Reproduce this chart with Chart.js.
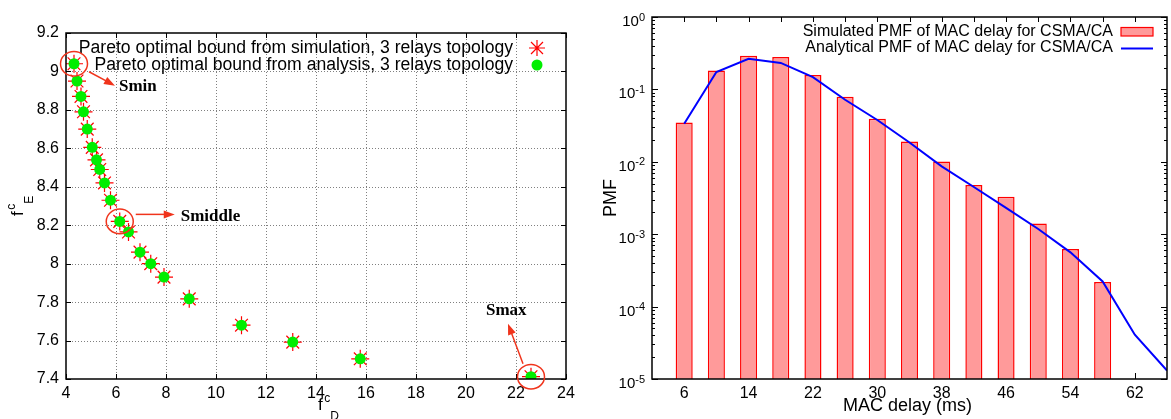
<!DOCTYPE html>
<html>
<head>
<meta charset="utf-8">
<script src="https://cdn.jsdelivr.net/npm/chart.js@4.4.1/dist/chart.umd.min.js"></script>
<style>
  html, body { margin: 0; padding: 0; background: #fff; }
  body { width: 1171px; height: 419px; position: relative; overflow: hidden; }
  canvas { position: absolute; top: 0; }
  #pareto { left: 0; }
  #pmf { left: 590px; }
</style>
</head>
<body>
<canvas id="pareto" width="590" height="419"></canvas>
<canvas id="pmf" width="581" height="419"></canvas>
<script>
// ---- left panel: pareto bound, delay cost f^c_D vs energy cost f^c_E
const paretoDelay  = [4.32, 4.44, 4.60, 4.70, 4.85, 5.05, 5.22, 5.35, 5.54, 5.78, 6.15, 6.50, 6.96, 7.39, 7.92, 8.93, 11.02, 13.07, 15.77, 22.60];
const paretoEnergy = [9.04, 8.95, 8.87, 8.79, 8.70, 8.605, 8.54, 8.49, 8.42, 8.33, 8.22, 8.165, 8.06, 8.00, 7.93, 7.817, 7.68, 7.592, 7.505, 7.412];
const paretoXTicks = [4, 6, 8, 10, 12, 14, 16, 18, 20, 22, 24];
const paretoYTicks = [7.4, 7.6, 7.8, 8.0, 8.2, 8.4, 8.6, 8.8, 9.0, 9.2];
// points that get a circle + arrow + name
const markedIndex = [0, 10, 19];
const markedName  = ['Smin', 'Smiddle', 'Smax'];

// ---- right panel: PMF of MAC delay
const delayBins     = [6, 10, 14, 18, 22, 26, 30, 34, 38, 42, 46, 50, 54, 58];
const pmfSimulated  = [0.035, 0.183, 0.292, 0.280, 0.158, 0.0793, 0.0393, 0.0191, 0.0101, 0.00478, 0.0033, 0.0014, 0.000625, 0.000219];
const delayPoints   = [6, 10, 14, 18, 22, 26, 30, 34, 38, 42, 46, 50, 54, 58, 62, 66];
const pmfAnalytical = [0.0336, 0.174, 0.265, 0.232, 0.148, 0.072, 0.0378, 0.0185, 0.00864, 0.00449, 0.00231, 0.00118, 0.000561, 0.000223, 0.0000409, 0.0000131];
const delayTicks    = [6, 14, 22, 30, 38, 46, 54, 62];
const delayTopTicks = [6, 10, 14, 18, 22, 26, 30, 34, 38, 42, 46, 50, 54, 58, 62];
const pmfDecades    = [-5, -4, -3, -2, -1, 0];

const SANS = '"Liberation Sans", Arial, Helvetica, sans-serif';
const SERIF = '"Liberation Serif", "Times New Roman", serif';
Chart.defaults.font.family = SANS;
Chart.defaults.font.size = 16;
Chart.defaults.color = '#000';

const annoRed = 'rgb(240, 52, 28)';

function arrow(ctx, x1, y1, x2, y2) {
  const a = Math.atan2(y2 - y1, x2 - x1);
  const c = Math.cos(a), s = Math.sin(a);
  ctx.beginPath();
  ctx.moveTo(x1, y1);
  ctx.lineTo(x2 - 8 * c, y2 - 8 * s);
  ctx.stroke();
  ctx.beginPath();
  ctx.moveTo(x2, y2);
  ctx.lineTo(x2 - 11 * c + 4 * s, y2 - 11 * s - 4 * c);
  ctx.lineTo(x2 - 11 * c - 4 * s, y2 - 11 * s + 4 * c);
  ctx.closePath();
  ctx.fill();
}

function star(ctx, x, y, r) {
  ctx.beginPath();
  ctx.moveTo(x - r, y); ctx.lineTo(x + r, y);
  ctx.moveTo(x, y - r); ctx.lineTo(x, y + r);
  ctx.moveTo(x - r * 0.75, y - r * 0.75); ctx.lineTo(x + r * 0.75, y + r * 0.75);
  ctx.moveTo(x - r * 0.75, y + r * 0.75); ctx.lineTo(x + r * 0.75, y - r * 0.75);
  ctx.stroke();
}

// text with a superscript and a subscript, like f^c_D
function fcLabel(ctx, x, y, sub) {
  ctx.textAlign = 'left';
  ctx.textBaseline = 'alphabetic';
  ctx.font = '17px ' + SANS;
  ctx.fillText('f', x, y);
  const w = ctx.measureText('f').width + 1.5;
  ctx.font = '12px ' + SANS;
  ctx.fillText('c', x + w, y - 8);
  ctx.fillText(sub, x + w + ctx.measureText('c').width, y + 10);
}

const paretoDecor = {
  id: 'paretoDecor',
  beforeDatasetsDraw(chart) {
    const { ctx, chartArea: a, scales: { x, y } } = chart;
    ctx.save();
    ctx.strokeStyle = '#808080';
    ctx.lineWidth = 1;
    ctx.setLineDash([1, 2]);
    paretoXTicks.slice(1, -1).forEach(v => {
      const px = Math.round(x.getPixelForValue(v)) + 0.5;
      ctx.beginPath(); ctx.moveTo(px, a.top); ctx.lineTo(px, a.bottom); ctx.stroke();
    });
    paretoYTicks.slice(1, -1).forEach(v => {
      const py = Math.round(y.getPixelForValue(v)) + 0.5;
      ctx.beginPath(); ctx.moveTo(a.left, py); ctx.lineTo(a.right, py); ctx.stroke();
    });
    ctx.restore();
  },
  afterDatasetsDraw(chart) {
    const { ctx, chartArea: a, scales: { x, y } } = chart;
    ctx.save();
    // inward ticks and frame
    ctx.strokeStyle = '#000';
    ctx.lineWidth = 1;
    ctx.beginPath();
    paretoXTicks.forEach(v => {
      const px = Math.round(x.getPixelForValue(v)) + 0.5;
      ctx.moveTo(px, a.bottom); ctx.lineTo(px, a.bottom - 5);
      ctx.moveTo(px, a.top); ctx.lineTo(px, a.top + 5);
    });
    paretoYTicks.forEach(v => {
      const py = Math.round(y.getPixelForValue(v)) + 0.5;
      ctx.moveTo(a.left, py); ctx.lineTo(a.left + 5, py);
      ctx.moveTo(a.right, py); ctx.lineTo(a.right - 5, py);
    });
    ctx.stroke();
    ctx.lineWidth = 1.5;
    ctx.strokeRect(a.left, a.top, a.right - a.left, a.bottom - a.top);

    // legend, gnuplot style: text right-aligned, marker on the right
    const ds = chart.data.datasets;
    ctx.font = '17.6px ' + SANS;
    ctx.fillStyle = '#000';
    ctx.textAlign = 'right';
    ctx.textBaseline = 'middle';
    ctx.fillText(ds[0].label, a.right - 53, a.top + 15);
    ctx.fillText(ds[1].label, a.right - 53, a.top + 32);
    ctx.strokeStyle = ds[0].borderColor;
    ctx.lineWidth = 1.2;
    star(ctx, a.right - 29, a.top + 15, 8);
    ctx.fillStyle = ds[1].backgroundColor;
    ctx.beginPath(); ctx.arc(a.right - 29, a.top + 32, 5.5, 0, Math.PI * 2); ctx.fill();

    // annotations: circle around the point, arrow, name
    const place = [
      { from: [15, 8], to: [41, 22], at: [45, 27] },
      { from: [16, -7], to: [55, -7], at: [61, 0] },
      { from: [-8, -13], to: [-23, -53], at: [-45, -62] }
    ];
    markedIndex.forEach((idx, k) => {
      const px = x.getPixelForValue(paretoDelay[idx]);
      const py = y.getPixelForValue(paretoEnergy[idx]);
      const p = place[k];
      ctx.strokeStyle = annoRed;
      ctx.fillStyle = annoRed;
      ctx.lineWidth = 1.5;
      ctx.beginPath(); ctx.ellipse(px, py, 13.5, 12.3, 0, 0, Math.PI * 2); ctx.stroke();
      arrow(ctx, px + p.from[0], py + p.from[1], px + p.to[0], py + p.to[1]);
      ctx.fillStyle = '#000';
      ctx.font = 'bold 17px ' + SERIF;
      ctx.textAlign = 'left';
      ctx.textBaseline = 'alphabetic';
      ctx.fillText(markedName[k], px + p.at[0], py + p.at[1]);
    });

    // axis titles
    ctx.fillStyle = '#000';
    fcLabel(ctx, (a.left + a.right) / 2 + 2, a.bottom + 31, 'D');
    ctx.translate(a.left - 43, (a.top + a.bottom) / 2 + 10);
    ctx.rotate(-Math.PI / 2);
    fcLabel(ctx, 0, 0, 'E');
    ctx.restore();
  }
};

new Chart('pareto', {
  type: 'scatter',
  data: {
    datasets: [{
      label: 'Pareto optimal bound from simulation, 3 relays topology',
      data: paretoDelay.map((v, i) => ({ x: v, y: paretoEnergy[i] })),
      pointStyle: 'star',
      pointRadius: 9,
      borderColor: '#ff0000',
      backgroundColor: '#ff0000',
      borderWidth: 1.2,
      order: 2
    }, {
      label: 'Pareto optimal bound from analysis, 3 relays topology',
      data: paretoDelay.map((v, i) => ({ x: v, y: paretoEnergy[i] })),
      pointStyle: 'circle',
      pointRadius: 5.5,
      backgroundColor: '#00ee00',
      borderWidth: 0,
      order: 1
    }]
  },
  options: {
    responsive: false,
    animation: false,
    devicePixelRatio: 1,
    events: [],
    layout: { padding: { left: 0, top: 33, right: 24, bottom: 0 } },
    plugins: { legend: { display: false }, tooltip: { enabled: false } },
    scales: {
      x: {
        type: 'linear', min: 4, max: 24,
        afterBuildTicks: s => { s.ticks = paretoXTicks.map(v => ({ value: v })); },
        afterFit: s => { s.height = 40; },
        grid: { display: false, drawTicks: false },
        border: { display: false },
        ticks: { padding: 5, maxRotation: 0, autoSkip: false, callback: v => String(v) }
      },
      y: {
        type: 'linear', min: 7.4, max: 9.2,
        afterBuildTicks: s => { s.ticks = paretoYTicks.map(v => ({ value: v })); },
        afterFit: s => { s.width = 66; },
        grid: { display: false, drawTicks: false },
        border: { display: false },
        ticks: { padding: 7, autoSkip: false, callback: v => String(+v.toFixed(1)) }
      }
    }
  },
  plugins: [paretoDecor]
});

const pmfDecor = {
  id: 'pmfDecor',
  beforeDatasetsDraw(chart) {
    const { ctx, chartArea: a, scales: { x, y } } = chart;
    ctx.save();
    ctx.strokeStyle = '#000';
    ctx.lineWidth = 1;
    ctx.beginPath();
    delayTicks.forEach(v => {
      const px = Math.round(x.getPixelForValue(v)) + 0.5;
      ctx.moveTo(px, a.bottom); ctx.lineTo(px, a.bottom - 6);
    });
    delayTopTicks.forEach(v => {
      const px = Math.round(x.getPixelForValue(v)) + 0.5;
      ctx.moveTo(px, a.top); ctx.lineTo(px, a.top + 5);
    });
    pmfDecades.forEach(e => {
      for (let m = 1; m <= 9; m++) {
        if (e === 0 && m > 1) break;
        const py = Math.round(y.getPixelForValue(m * Math.pow(10, e))) + 0.5;
        const len = m === 1 ? 6 : 3;
        ctx.moveTo(a.left, py); ctx.lineTo(a.left + len, py);
        ctx.moveTo(a.right, py); ctx.lineTo(a.right - len, py);
      }
    });
    ctx.stroke();
    ctx.restore();
  },
  afterDatasetsDraw(chart) {
    const { ctx, chartArea: a, scales: { y } } = chart;
    ctx.save();
    ctx.strokeStyle = '#000';
    ctx.lineWidth = 1.5;
    ctx.strokeRect(a.left, a.top, a.right - a.left, a.bottom - a.top);

    // log tick labels 10^e
    ctx.fillStyle = '#000';
    ctx.textAlign = 'right';
    ctx.textBaseline = 'alphabetic';
    pmfDecades.forEach(e => {
      const py = y.getPixelForValue(Math.pow(10, e));
      const exp = String(e);
      ctx.font = '11px ' + SANS;
      const ew = ctx.measureText(exp).width;
      const right = a.left - 7;
      ctx.fillText(exp, right, py + 3.5);
      ctx.font = '15px ' + SANS;
      ctx.fillText('10', right - ew, py + 9);
    });

    // legend
    const ds = chart.data.datasets;
    ctx.font = '16px ' + SANS;
    ctx.textBaseline = 'middle';
    ctx.fillText(ds[0].label, a.right - 54, a.top + 14.5);
    ctx.fillText(ds[1].label, a.right - 54, a.top + 31);
    ctx.fillStyle = ds[0].backgroundColor;
    ctx.fillRect(a.right - 46, a.top + 10.5, 32, 8.5);
    ctx.strokeStyle = ds[0].borderColor;
    ctx.lineWidth = 1.2;
    ctx.strokeRect(a.right - 46, a.top + 10.5, 32, 8.5);
    ctx.strokeStyle = ds[1].borderColor;
    ctx.lineWidth = 2;
    ctx.beginPath(); ctx.moveTo(a.right - 46, a.top + 31.5); ctx.lineTo(a.right - 14, a.top + 31.5); ctx.stroke();

    // axis titles
    ctx.fillStyle = '#000';
    ctx.font = '18px ' + SANS;
    ctx.textAlign = 'center';
    ctx.textBaseline = 'middle';
    ctx.fillText('MAC delay (ms)', (a.left + a.right) / 2 - 2, a.bottom + 27);
    ctx.translate(a.left - 41, (a.top + a.bottom) / 2);
    ctx.rotate(-Math.PI / 2);
    ctx.fillText('PMF', 0, 0);
    ctx.restore();
  }
};

new Chart('pmf', {
  type: 'bar',
  data: {
    datasets: [{
      type: 'bar',
      label: 'Simulated PMF of MAC delay for CSMA/CA',
      data: delayBins.map((v, i) => ({ x: v, y: pmfSimulated[i] })),
      backgroundColor: '#ff9a9a',
      borderColor: '#ff0000',
      borderWidth: 1.5,
      barPercentage: 0.53,
      categoryPercentage: 1,
      order: 2
    }, {
      type: 'line',
      label: 'Analytical PMF of MAC delay for CSMA/CA',
      data: delayPoints.map((v, i) => ({ x: v, y: pmfAnalytical[i] })),
      borderColor: '#0000ff',
      borderWidth: 2,
      pointRadius: 0,
      tension: 0,
      fill: false,
      order: 1
    }]
  },
  options: {
    responsive: false,
    animation: false,
    devicePixelRatio: 1,
    events: [],
    layout: { padding: { left: 0, top: 17, right: 4, bottom: 0 } },
    plugins: { legend: { display: false }, tooltip: { enabled: false } },
    scales: {
      x: {
        type: 'linear', offset: false, min: 2, max: 66,
        afterBuildTicks: s => { s.ticks = delayTicks.map(v => ({ value: v })); },
        afterFit: s => { s.height = 40; },
        grid: { display: false, drawTicks: false },
        border: { display: false },
        ticks: { padding: 5, maxRotation: 0, autoSkip: false, callback: v => String(v) }
      },
      y: {
        type: 'logarithmic', min: 1e-5, max: 1,
        afterFit: s => { s.width = 62; },
        grid: { display: false, drawTicks: false },
        border: { display: false },
        ticks: { display: false }
      }
    }
  },
  plugins: [pmfDecor]
});
</script>
</body>
</html>
